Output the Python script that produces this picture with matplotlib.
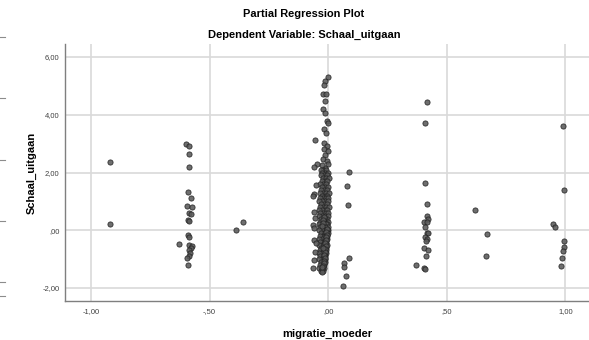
import matplotlib
matplotlib.use("Agg")
import matplotlib.pyplot as plt
from matplotlib.lines import Line2D
from matplotlib.ticker import FixedLocator, FuncFormatter

plt.rcParams["font.family"] = ["Liberation Sans", "DejaVu Sans"]

# residuals grouped by where they sit along migratie_moeder
far_left_x = [-0.92, -0.92]
far_left_y = [2.35, 0.20]

left_x = [-0.60, -0.585, -0.585, -0.585, -0.59, -0.58, -0.595, -0.575, -0.585, -0.58,
          -0.59, -0.585, -0.59, -0.585, -0.63, -0.585, -0.575, -0.58, -0.585, -0.583,
          -0.588, -0.595, -0.59]
left_y = [3.00, 2.93, 2.65, 2.20, 1.31, 1.10, 0.83, 0.80, 0.60, 0.58,
          0.35, 0.33, -0.17, -0.25, -0.48, -0.50, -0.55, -0.60, -0.70, -0.80,
          -0.90, -0.97, -1.20]

mid_left_x = [-0.39, -0.36]
mid_left_y = [0.00, 0.28]

# upper tail of the big group at zero
top_x = [0.0, -0.013, -0.016, -0.02, -0.008, -0.013, -0.02, -0.013, -0.004, 0.0,
         -0.017, -0.008, -0.017, -0.004, -0.017, 0.0, -0.013, -0.021, -0.004, 0.0,
         -0.015, -0.025]
top_y = [5.32, 5.17, 5.03, 4.72, 4.72, 4.48, 4.20, 4.07, 3.80, 3.70,
         3.50, 3.38, 3.03, 2.93, 2.83, 2.75, 2.60, 2.48, 2.40, 2.30,
         2.17, 2.25]

# dense core of the group at zero
core_x = [-0.02, -0.008, -0.03,
          -0.012, -0.025, 0.0,
          -0.018, -0.005, -0.03,
          -0.022, -0.01, 0.003,
          -0.015, -0.028, -0.004,
          -0.02, -0.008, -0.033,
          -0.012, -0.025, 0.0,
          -0.018, -0.006, -0.03,
          -0.022, -0.01, -0.035, 0.002,
          -0.015, -0.028, -0.004,
          -0.02, -0.008, -0.033, 0.0,
          -0.012, -0.025, -0.002, -0.038,
          -0.018, -0.006, -0.03,
          -0.022, -0.01, -0.035, 0.002,
          -0.015, -0.028, -0.004, -0.04,
          -0.02, -0.008, -0.033, 0.0,
          -0.012, -0.025, -0.002, -0.038,
          -0.018, -0.006, -0.03, -0.012,
          -0.022, -0.01, -0.035, 0.0, -0.016,
          -0.015, -0.028, -0.004, -0.04, -0.01,
          -0.02, -0.008, -0.033, 0.0, -0.014,
          -0.012, -0.025, -0.002, -0.038, -0.006,
          -0.018, -0.006, -0.03, -0.012, -0.002,
          -0.022, -0.01, -0.035, -0.004, -0.015,
          -0.015, -0.028, -0.006, -0.04, -0.01,
          -0.02, -0.008, -0.033, -0.013,
          -0.012, -0.025, -0.006, -0.038, -0.017,
          -0.018, -0.008, -0.03, -0.012,
          -0.022, -0.01, -0.035, -0.016,
          -0.015, -0.028, -0.01, -0.04,
          -0.02, -0.012, -0.033, -0.017,
          -0.016, -0.025, -0.012, -0.038,
          -0.02, -0.014, -0.03,
          -0.022, -0.016, -0.035,
          -0.025, -0.018, -0.04,
          -0.03, -0.022]
core_y = [2.1, 2.1, 2.1,
          2.0, 2.0, 2.0,
          1.9, 1.9, 1.9,
          1.8, 1.8, 1.8,
          1.7, 1.7, 1.7,
          1.6, 1.6, 1.6,
          1.5, 1.5, 1.5,
          1.4, 1.4, 1.4,
          1.3, 1.3, 1.3, 1.3,
          1.2, 1.2, 1.2,
          1.1, 1.1, 1.1, 1.1,
          1.0, 1.0, 1.0, 1.0,
          0.9, 0.9, 0.9,
          0.8, 0.8, 0.8, 0.8,
          0.7, 0.7, 0.7, 0.7,
          0.6, 0.6, 0.6, 0.6,
          0.5, 0.5, 0.5, 0.5,
          0.4, 0.4, 0.4, 0.4,
          0.3, 0.3, 0.3, 0.3, 0.3,
          0.2, 0.2, 0.2, 0.2, 0.2,
          0.1, 0.1, 0.1, 0.1, 0.1,
          0.0, 0.0, 0.0, 0.0, 0.0,
          -0.1, -0.1, -0.1, -0.1, -0.1,
          -0.2, -0.2, -0.2, -0.2, -0.2,
          -0.3, -0.3, -0.3, -0.3, -0.3,
          -0.4, -0.4, -0.4, -0.4,
          -0.5, -0.5, -0.5, -0.5, -0.5,
          -0.6, -0.6, -0.6, -0.6,
          -0.7, -0.7, -0.7, -0.7,
          -0.8, -0.8, -0.8, -0.8,
          -0.9, -0.9, -0.9, -0.9,
          -1.0, -1.0, -1.0, -1.0,
          -1.1, -1.1, -1.1,
          -1.2, -1.2, -1.2,
          -1.3, -1.3, -1.3,
          -1.4, -1.4]

# the darkest band of the core, lower half, leaning left
band_x = [-0.004, -0.008, -0.006, -0.01, -0.008, -0.012, -0.01, -0.014, -0.012, -0.016,
          -0.014, -0.018, -0.016, -0.02, -0.018, -0.022, -0.02, -0.024, -0.022, -0.026]
band_y = [0.05, -0.05, -0.15, -0.25, -0.35, -0.45, -0.55, -0.65, -0.75, -0.85,
          -0.95, -1.05, -1.15, -1.25, 0.45, 0.35, 0.25, 0.15, -0.6, -1.35]

# stragglers just left of the zero group
stray_x = [-0.055, -0.047, -0.06, -0.05, -0.06, -0.062, -0.06, -0.057, -0.062, -0.059,
           -0.06, -0.05, -0.057, -0.06, -0.062, -0.025, -0.027]
stray_y = [3.14, 2.28, 2.20, 1.58, 1.27, 1.20, 0.62, 0.44, 0.17, 0.07,
           -0.34, -0.45, -0.76, -1.03, -1.31, -1.45, -1.28]

# just right of zero
near_right_x = [0.089, 0.08, 0.085, 0.089, 0.068, 0.068, 0.076, 0.064]
near_right_y = [2.03, 1.52, 0.86, -0.97, -1.14, -1.28, -1.59, -1.93]

mid_right_x = [0.415, 0.41, 0.41, 0.415, 0.415, 0.42, 0.405, 0.418, 0.41, 0.415,
               0.42, 0.41, 0.418, 0.412, 0.405, 0.42, 0.412, 0.37, 0.405, 0.41]
mid_right_y = [4.45, 3.70, 1.62, 0.90, 0.48, 0.38, 0.27, 0.27, 0.10, -0.10,
               -0.10, -0.24, -0.30, -0.38, -0.62, -0.69, -0.90, -1.20, -1.29, -1.33]

right_x = [0.62, 0.67, 0.665]
right_y = [0.69, -0.14, -0.90]

far_right_x = [0.99, 0.995, 0.95, 0.955, 0.995, 0.995, 0.99, 0.985, 0.98]
far_right_y = [3.60, 1.41, 0.20, 0.10, -0.38, -0.58, -0.72, -0.97, -1.24]

groups = [
    (far_left_x, far_left_y),
    (left_x, left_y),
    (mid_left_x, mid_left_y),
    (top_x, top_y),
    (core_x, core_y),
    (band_x, band_y),
    (stray_x, stray_y),
    (near_right_x, near_right_y),
    (mid_right_x, mid_right_y),
    (right_x, right_y),
    (far_right_x, far_right_y),
]

x_ticks = [-1.0, -0.5, 0.0, 0.5, 1.0]
y_ticks = [-2.0, 0.0, 2.0, 4.0, 6.0]


def spss_fmt(v, pos=None):
    # SPSS style: comma decimal, no leading zero
    s = f"{v:.2f}".replace(".", ",")
    s = s.replace("-0,", "-,")
    if s.startswith("0,"):
        s = s[1:]
    return s


fig = plt.figure(figsize=(5.89, 3.40), dpi=100)
ax = fig.add_axes([65 / 589, 1 - 301 / 340, 1 - 65 / 589, (301 - 44) / 340])

for gx, gy in groups:
    ax.scatter(gx, gy, s=14, facecolor="#5a5a5a", edgecolor="#222222",
               linewidth=0.6, alpha=0.88, zorder=3)

ax.set_xlim(-1.11, 1.10)
ax.set_ylim(-2.45, 6.45)
ax.xaxis.set_major_locator(FixedLocator(x_ticks))
ax.yaxis.set_major_locator(FixedLocator(y_ticks))
ax.xaxis.set_major_formatter(FuncFormatter(spss_fmt))
ax.yaxis.set_major_formatter(FuncFormatter(spss_fmt))
ax.grid(True, color="#d9d9d9", linewidth=1.2, zorder=0)
ax.set_axisbelow(True)
ax.tick_params(length=0, labelsize=5.5, labelcolor="#404040", pad=4)
ax.tick_params(axis="x", pad=5)

for side in ("top", "right"):
    ax.spines[side].set_visible(False)
for side in ("left", "bottom"):
    ax.spines[side].set_color("#7f7f7f")
    ax.spines[side].set_linewidth(1.0)

ax.set_xlabel("migratie_moeder", fontsize=8, fontweight="bold", labelpad=10)
ax.set_ylabel("Schaal_uitgaan", fontsize=8, fontweight="bold", labelpad=4)

fig.text(304 / 589, 1 - 14 / 340, "Partial Regression Plot", ha="center", va="center",
         fontsize=7.9, fontweight="bold")
fig.text(304 / 589, 1 - 35 / 340, "Dependent Variable: Schaal_uitgaan", ha="center",
         va="center", fontsize=8.0, fontweight="bold")

# short marks along the left border
for py in [37, 98, 160, 221, 282, 296]:
    fig.add_artist(Line2D([0, 5 / 589], [1 - py / 340, 1 - py / 340],
                          color="#8c8c8c", linewidth=0.8))

fig.savefig("out.png", dpi=100)
